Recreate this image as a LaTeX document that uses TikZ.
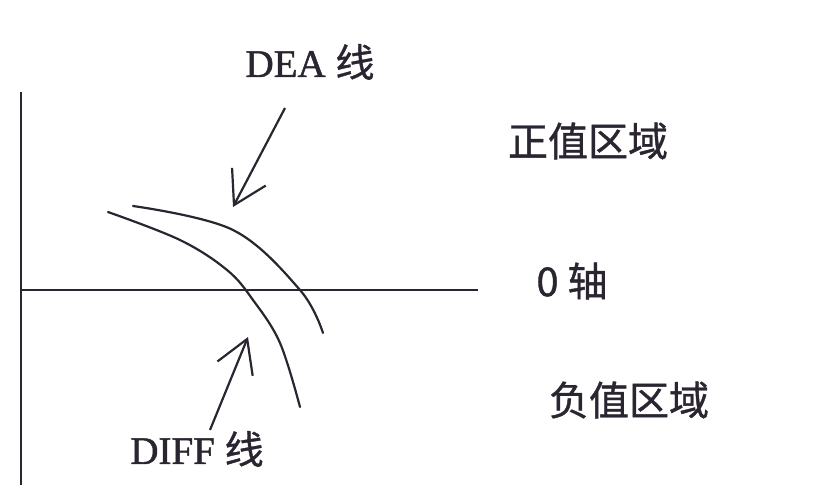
\documentclass[tikz,border=0pt]{standalone}
\usepackage{fontspec}
\setmainfont[FakeBold=1.2]{Liberation Serif}
\newfontfamily\cjk[FakeBold=1.0]{Noto Sans CJK SC}
\usetikzlibrary{arrows.meta}
\definecolor{ink}{HTML}{2a2530}

\tikzset{
  axisline/.style={draw=ink, line width=2.4pt},
  curve/.style={draw=ink, line width=2.2pt, line cap=round},
  pointer/.style={draw=ink, line width=2.2pt, -{Straight Barb[length=32pt,width=38pt]}},
  lbl/.style={text=ink, inner sep=0pt, font=\fontsize{39}{42}\selectfont},
  zone/.style={text=ink, inner sep=0pt, font=\cjk\fontsize{40}{44}\selectfont}
}

\begin{document}
\begin{tikzpicture}[x=1pt,y=-1pt]
        \useasboundingbox (0,0) rectangle (832,500);
        % axes
        \coordinate (ytop) at (21,92);
        \coordinate (ybot) at (21,485);
        \coordinate (zleft) at (21,290);
        \coordinate (zright) at (478,290);
        \draw[axisline] (ytop) -- (ybot);
        \draw[axisline] (zleft) -- (zright);
        % the two lines
        \draw[curve] plot[smooth, tension=0.6] coordinates {(133,206) (233,230) (300,290) (323,333)};
        \draw[curve] plot[smooth, tension=0.6] coordinates {(108,212) (180,240) (227,270) (253,300) (280,343) (300,407)};
        % labels
        \node[lbl] (dea) at (310,62) {DEA {\cjk 线}};
        \node[lbl] (diff) at (197,449) {DIFF {\cjk 线}};
        \node[zone] (pos) at (588,141) {正值区域};
        \node[zone] (zero) at (572,281) {0 轴};
        \node[zone] (neg) at (629,400) {负值区域};
        % pointers
        \coordinate (deafrom) at (285,108);
        \coordinate (deato) at (233,207);
        \coordinate (difffrom) at (210,430);
        \coordinate (diffto) at (248,337);
        \draw[pointer] (deafrom) -- (deato);
        \draw[pointer] (difffrom) -- (diffto);
\end{tikzpicture}
\end{document}
